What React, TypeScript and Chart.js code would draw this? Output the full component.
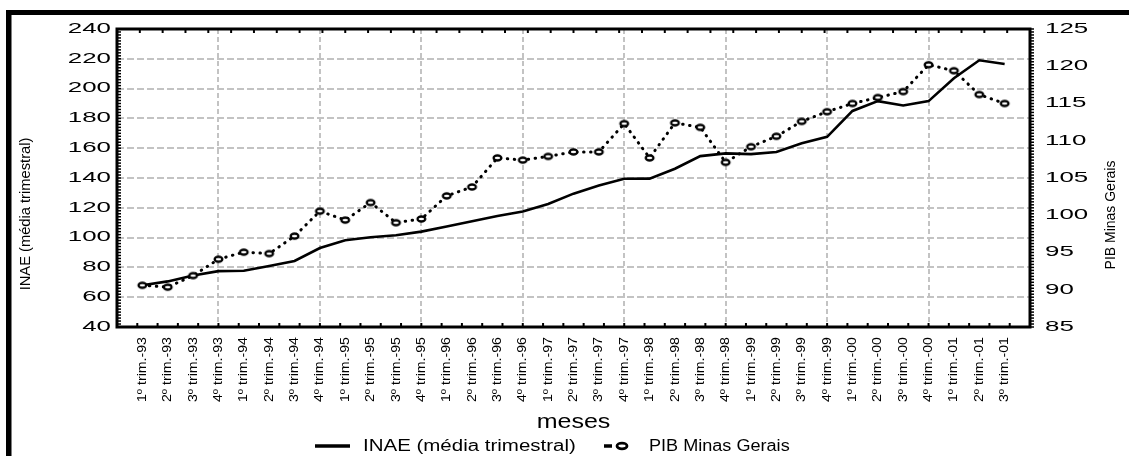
import React, { useEffect, useRef } from "react";
import { Chart, registerables, LinearScale } from "chart.js";

const LABELS = [
  "1º trim.-93", "2º trim.-93", "3º trim.-93", "4º trim.-93",
  "1º trim.-94", "2º trim.-94", "3º trim.-94", "4º trim.-94",
  "1º trim.-95", "2º trim.-95", "3º trim.-95", "4º trim.-95",
  "1º trim.-96", "2º trim.-96", "3º trim.-96", "4º trim.-96",
  "1º trim.-97", "2º trim.-97", "3º trim.-97", "4º trim.-97",
  "1º trim.-98", "2º trim.-98", "3º trim.-98", "4º trim.-98",
  "1º trim.-99", "2º trim.-99", "3º trim.-99", "4º trim.-99",
  "1º trim.-00", "2º trim.-00", "3º trim.-00", "4º trim.-00",
  "1º trim.-01", "2º trim.-01", "3º trim.-01",
];

const INAE = [
  68, 70.6, 74.6, 77.5, 77.8, 80.9, 84.3, 93, 98.2, 100.2, 101.6, 104,
  107.5, 111, 114.5, 117.5, 122.5, 129.5, 135, 139.5, 139.6, 146.2, 154.7, 156.5,
  156, 157.5, 163.3, 167.6, 185, 191.6, 188.7, 191.6, 207, 219, 216.5,
];

const PIB = [
  90.6, 90.35, 91.9, 94.1, 95.05, 94.85, 97.2, 100.55, 99.35, 101.7, 99.0, 99.5,
  102.6, 103.8, 107.7, 107.4, 107.9, 108.5, 108.5, 112.3, 107.7, 112.4, 111.8, 107.1,
  109.2, 110.6, 112.6, 113.9, 115.0, 115.8, 116.6, 120.2, 119.4, 116.2, 115.0,
];

const INAE_AXIS = [40, 240, 20];
const PIB_AXIS = [85, 125, 5];
const X_AXIS = [-1, 35];

const FONT = '"Liberation Sans", Arial, Helvetica, sans-serif';
const GRID = "#c3c3c3";

const AXIS_TEXT: any = {
  x: { labelStretch: 1.09, titleOffset: 95, titleShift: 0, titleStretch: 1.25, titleFont: `20px ${FONT}` },
  y: { labelStretch: 1.85, titleOffset: 26, titleShift: 36, titleStretch: 1.05, titleFont: `14px ${FONT}` },
  y1: { labelStretch: 1.85, titleOffset: 18, titleShift: 37, titleStretch: 1.0, titleFont: `14px ${FONT}` },
};

class StretchLinear extends (LinearScale as any) {
  static id = "stretchLinear";
  static defaults = {};
  drawLabels(chartArea: any) {
    const cfg = AXIS_TEXT[this.id];
    if (!cfg) return super.drawLabels(chartArea);
    const ctx = this.ctx;
    const pos = this.options.position;
    const pad = this.options.ticks.padding;
    ctx.save();
    if (pos === "bottom") {
      const py = this.top + pad;
      ctx.translate(0, py);
      ctx.scale(1, cfg.labelStretch);
      ctx.translate(0, -py);
    } else {
      const px = pos === "left" ? this.right - pad : this.left + pad;
      ctx.translate(px, 0);
      ctx.scale(cfg.labelStretch, 1);
      ctx.translate(-px, 0);
    }
    super.drawLabels(chartArea);
    ctx.restore();
  }
  drawTitle() {
    const cfg = AXIS_TEXT[this.id];
    const t = this.options.title;
    if (!t || !t.display || !cfg) return;
    const ctx = this.ctx;
    const pos = this.options.position;
    let cx: number, cy: number, rot = 0;
    if (pos === "bottom") {
      cx = (this.left + this.right) / 2;
      cy = this.top + cfg.titleOffset;
    } else {
      cx = pos === "left" ? this.left + cfg.titleOffset : this.right - cfg.titleOffset;
      cy = (this.top + this.bottom) / 2 + cfg.titleShift;
      rot = -Math.PI / 2;
    }
    ctx.save();
    ctx.translate(cx, cy);
    ctx.rotate(rot);
    ctx.scale(cfg.titleStretch, 1);
    ctx.font = cfg.titleFont;
    ctx.fillStyle = "#000";
    ctx.textAlign = "center";
    ctx.textBaseline = "middle";
    ctx.fillText(t.text, 0, 0);
    ctx.restore();
  }
}

Chart.register(...registerables, StretchLinear as any);

function makeMarker(rx: number, ry: number, lw: number) {
  const c = document.createElement("canvas");
  const w = Math.ceil(2 * (rx + lw));
  const h = Math.ceil(2 * (ry + lw));
  c.width = w;
  c.height = h;
  const g = c.getContext("2d")!;
  g.beginPath();
  g.ellipse(w / 2, h / 2, rx, ry, 0, 0, Math.PI * 2);
  g.fillStyle = "#fff";
  g.fill();
  g.lineWidth = lw;
  g.strokeStyle = "#000";
  g.stroke();
  return c;
}

function stretchedText(ctx: any, text: string, x: number, y: number, font: string, sx: number) {
  ctx.save();
  ctx.font = font;
  ctx.fillStyle = "#000";
  ctx.textAlign = "left";
  ctx.textBaseline = "middle";
  ctx.translate(x, y);
  ctx.scale(sx, 1);
  ctx.fillText(text, 0, 0);
  ctx.restore();
}

function makeFramePlugin(legendMarker: HTMLCanvasElement) {
  return {
    id: "statFrame",
    beforeDraw(chart: any) {
      const { ctx, width, height } = chart;
      ctx.save();
      ctx.fillStyle = "#fff";
      ctx.fillRect(0, 0, width, height);
      ctx.fillStyle = "#000";
      ctx.fillRect(6, 10, width - 6, 5);
      ctx.fillRect(6, 10, 5.5, height - 10);
      ctx.restore();
    },
    afterDraw(chart: any) {
      const { ctx, chartArea: a, scales } = chart;
      ctx.save();
      ctx.strokeStyle = "#000";
      ctx.lineWidth = 3;
      ctx.strokeRect(a.left, a.top, a.right - a.left, a.bottom - a.top);

      ctx.lineWidth = 1.5;
      // left minor ticks (inside)
      for (let k = 0; k <= 100; k++) {
        const v = INAE_AXIS[0] + 2 * k;
        const y = scales.y.getPixelForValue(v);
        ctx.beginPath();
        ctx.moveTo(a.left, y);
        ctx.lineTo(a.left + 4, y);
        ctx.stroke();
      }
      // right minor ticks (outside)
      for (let k = 0; k <= 100; k++) {
        const v = PIB_AXIS[0] + 0.4 * k;
        const y = scales.y1.getPixelForValue(v);
        ctx.beginPath();
        ctx.moveTo(a.right, y);
        ctx.lineTo(a.right + 4, y);
        ctx.stroke();
      }
      ctx.lineWidth = 2;
      // bottom ticks
      for (let k = 0; k <= 45; k++) {
        const x = scales.x.getPixelForValue(X_AXIS[0] + 0.8 * k);
        ctx.beginPath();
        ctx.moveTo(x, a.bottom);
        ctx.lineTo(x, a.bottom - 4);
        ctx.stroke();
      }
      // top ticks
      for (let k = 0; k <= 40; k++) {
        const x = scales.x.getPixelForValue(X_AXIS[0] + 0.9 * k);
        ctx.beginPath();
        ctx.moveTo(x, a.top);
        ctx.lineTo(x, a.top + 4);
        ctx.stroke();
      }

      // legend
      const ds = chart.data.datasets;
      const ly = 446;
      ctx.lineWidth = 3.5;
      ctx.lineCap = "butt";
      ctx.beginPath();
      ctx.moveTo(315, ly);
      ctx.lineTo(350, ly);
      ctx.stroke();
      stretchedText(ctx, ds[0].label, 363, ly + 1, `16px ${FONT}`, 1.28);

      ctx.beginPath();
      ctx.moveTo(604, ly);
      ctx.lineTo(612, ly);
      ctx.stroke();
      ctx.drawImage(legendMarker, 622 - legendMarker.width / 2, ly - legendMarker.height / 2);
      stretchedText(ctx, ds[1].label, 649, ly + 1, `16px ${FONT}`, 1.13);
      ctx.restore();
    },
  };
}

export default function App() {
  const ref = useRef<HTMLCanvasElement | null>(null);

  useEffect(() => {
    if (!ref.current) return;
    const marker = makeMarker(3.85, 2.5, 2.3);
    const legendMarker = makeMarker(5, 2.8, 2.8);
    const chart = new Chart(ref.current, {
      type: "line",
      data: {
        datasets: [
          {
            label: "INAE (média trimestral)",
            data: INAE.map((v, i) => ({ x: i, y: v })),
            yAxisID: "y",
            borderColor: "#000",
            borderWidth: 2.6,
            pointRadius: 0,
            tension: 0,
            order: 1,
          },
          {
            label: "PIB Minas Gerais",
            data: PIB.map((v, i) => ({ x: i, y: v })),
            yAxisID: "y1",
            borderColor: "#000",
            borderWidth: 3,
            borderDash: [0.5, 6.5],
            borderCapStyle: "round",
            pointStyle: marker as any,
            pointRadius: 5,
            pointHoverRadius: 5,
            tension: 0,
            order: 0,
          },
        ],
      } as any,
      options: {
        responsive: false,
        maintainAspectRatio: false,
        animation: false,
        events: [],
        layout: { padding: { top: 29, left: 0, right: 0, bottom: 0 } },
        plugins: {
          legend: { display: false },
          tooltip: { enabled: false },
        },
        scales: {
          x: {
            type: "stretchLinear",
            position: "bottom",
            min: X_AXIS[0],
            max: X_AXIS[1],
            afterFit: (s: any) => {
              s.height = 129;
            },
            grid: {
              color: (c: any) => {
                const v = c.tick ? c.tick.value : -1;
                return v >= 0 && v <= 31 && v % 4 === 3 ? GRID : "rgba(0,0,0,0)";
              },
              lineWidth: 2,
              drawTicks: false,
            },
            border: { display: false, dash: [5, 3] },
            ticks: {
              stepSize: 1,
              autoSkip: false,
              maxTicksLimit: 100,
              minRotation: 90,
              maxRotation: 90,
              padding: 10,
              color: "#000",
              font: { family: FONT, size: 13 },
              callback: (v: any) => LABELS[v] ?? "",
            },
            title: { display: true, text: "meses" },
          },
          y: {
            type: "stretchLinear",
            position: "left",
            min: INAE_AXIS[0],
            max: INAE_AXIS[1],
            afterFit: (s: any) => {
              s.width = 117;
            },
            grid: { color: GRID, lineWidth: 2, drawTicks: false },
            border: { display: false, dash: [7, 3] },
            ticks: {
              stepSize: INAE_AXIS[2],
              padding: 6,
              color: "#000",
              font: { family: FONT, size: 14 },
            },
            title: { display: true, text: "INAE (média trimestral)" },
          },
          y1: {
            type: "stretchLinear",
            position: "right",
            min: PIB_AXIS[0],
            max: PIB_AXIS[1],
            afterFit: (s: any) => {
              s.width = 99;
            },
            grid: { drawOnChartArea: false, drawTicks: false },
            border: { display: false },
            ticks: {
              stepSize: PIB_AXIS[2],
              padding: 15,
              color: "#000",
              font: { family: FONT, size: 14 },
            },
            title: { display: true, text: "PIB Minas Gerais" },
          },
        } as any,
      },
      plugins: [makeFramePlugin(legendMarker) as any],
    });
    return () => chart.destroy();
  }, []);

  return (
    <div style={{ position: "absolute", left: 0, top: 0, width: 1129, height: 456 }}>
      <canvas ref={ref} width={1129} height={456} style={{ display: "block" }} />
    </div>
  );
}
